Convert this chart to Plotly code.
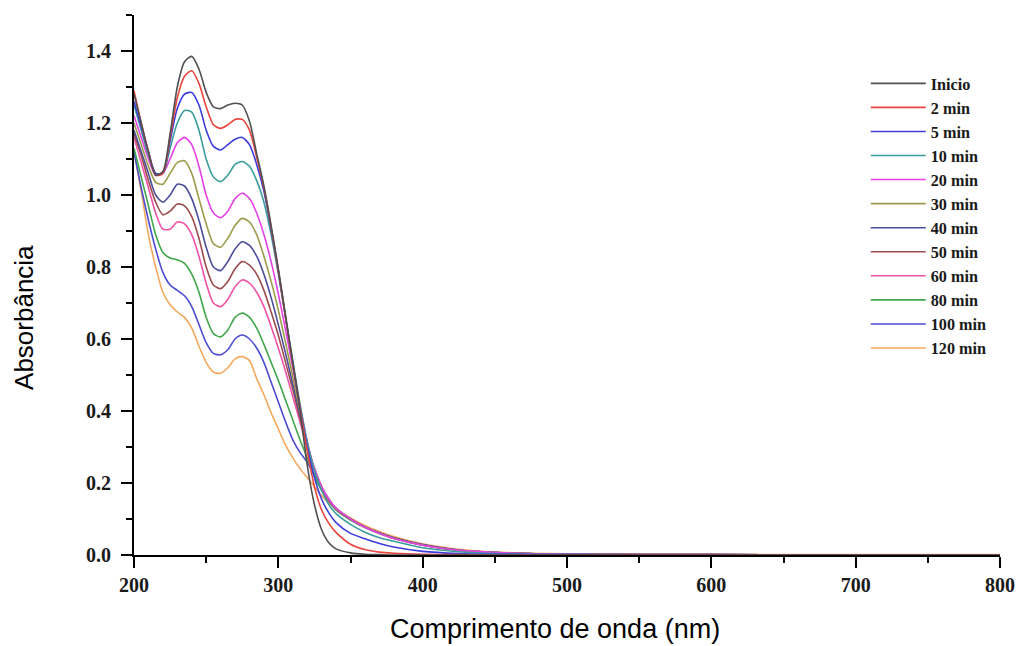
import plotly.graph_objects as go

# Wavelength grid (nm)
wavelength = [200, 205, 210, 215, 220, 225, 230, 235, 240, 245, 250, 255, 260, 265,
              270, 275, 280, 285, 290, 295, 300, 305, 310, 315, 320, 325, 330, 335,
              340, 350, 360, 370, 380, 400, 425, 450, 500, 600, 700, 800]

# Absorbance spectra recorded at each irradiation time
abs_inicio = [1.28, 1.20, 1.12, 1.055, 1.065, 1.17, 1.30, 1.37, 1.385, 1.35, 1.285, 1.245, 1.24, 1.25,
              1.255, 1.25, 1.205, 1.115, 1.025, 0.915, 0.795, 0.665, 0.535, 0.405, 0.25, 0.14, 0.07, 0.034,
              0.017, 0.006, 0.002, 0.001, 0.0, 0.0, 0.0, 0.0, 0.0, 0.0, 0.0, 0.0]
abs_2min = [1.29, 1.20, 1.12, 1.055, 1.06, 1.16, 1.27, 1.33, 1.345, 1.31, 1.245, 1.195, 1.185, 1.195,
            1.21, 1.21, 1.18, 1.105, 1.02, 0.91, 0.79, 0.66, 0.53, 0.41, 0.29, 0.19, 0.125, 0.088,
            0.063, 0.03, 0.015, 0.008, 0.005, 0.002, 0.001, 0.0, 0.0, 0.0, 0.0, 0.0]
abs_5min = [1.26, 1.19, 1.12, 1.06, 1.06, 1.15, 1.24, 1.28, 1.285, 1.25, 1.18, 1.135, 1.125, 1.14,
            1.155, 1.16, 1.14, 1.085, 1.01, 0.905, 0.79, 0.66, 0.53, 0.41, 0.30, 0.215, 0.155, 0.117,
            0.09, 0.06, 0.045, 0.032, 0.022, 0.01, 0.004, 0.002, 0.001, 0.0, 0.0, 0.0]
abs_10min = [1.25, 1.18, 1.11, 1.06, 1.06, 1.13, 1.20, 1.235, 1.23, 1.18, 1.10, 1.05, 1.037, 1.055,
             1.085, 1.093, 1.08, 1.04, 0.98, 0.89, 0.78, 0.66, 0.54, 0.42, 0.315, 0.235, 0.18, 0.14,
             0.115, 0.085, 0.063, 0.048, 0.038, 0.02, 0.009, 0.004, 0.001, 0.0, 0.0, 0.0]
abs_20min = [1.22, 1.16, 1.10, 1.055, 1.06, 1.10, 1.145, 1.16, 1.14, 1.08, 1.00, 0.95, 0.937, 0.955,
             0.99, 1.005, 0.99, 0.95, 0.89, 0.815, 0.725, 0.625, 0.52, 0.415, 0.315, 0.24, 0.19, 0.155,
             0.13, 0.10, 0.077, 0.06, 0.046, 0.027, 0.013, 0.007, 0.002, 0.001, 0.0, 0.0]
abs_30min = [1.20, 1.14, 1.08, 1.035, 1.03, 1.06, 1.09, 1.095, 1.06, 0.99, 0.92, 0.865, 0.855, 0.88,
             0.915, 0.935, 0.925, 0.89, 0.83, 0.76, 0.68, 0.59, 0.495, 0.40, 0.31, 0.24, 0.19, 0.155,
             0.13, 0.10, 0.077, 0.06, 0.046, 0.027, 0.013, 0.007, 0.002, 0.001, 0.0, 0.0]
abs_40min = [1.18, 1.12, 1.06, 1.00, 0.98, 1.00, 1.03, 1.025, 0.99, 0.93, 0.855, 0.80, 0.79, 0.815,
             0.85, 0.87, 0.86, 0.83, 0.78, 0.715, 0.64, 0.56, 0.475, 0.39, 0.305, 0.24, 0.19, 0.155,
             0.13, 0.10, 0.078, 0.061, 0.047, 0.028, 0.013, 0.007, 0.002, 0.001, 0.0, 0.0]
abs_50min = [1.17, 1.11, 1.04, 0.98, 0.945, 0.955, 0.975, 0.97, 0.94, 0.88, 0.80, 0.75, 0.74, 0.76,
             0.795, 0.815, 0.805, 0.78, 0.735, 0.675, 0.61, 0.535, 0.46, 0.38, 0.30, 0.235, 0.185, 0.152,
             0.128, 0.10, 0.078, 0.061, 0.047, 0.028, 0.013, 0.007, 0.002, 0.001, 0.0, 0.0]
abs_60min = [1.16, 1.09, 1.02, 0.95, 0.905, 0.905, 0.925, 0.92, 0.89, 0.83, 0.755, 0.70, 0.69, 0.71,
             0.745, 0.764, 0.755, 0.73, 0.69, 0.635, 0.575, 0.51, 0.44, 0.37, 0.295, 0.235, 0.185, 0.152,
             0.128, 0.10, 0.078, 0.061, 0.047, 0.028, 0.014, 0.007, 0.002, 0.001, 0.0, 0.0]
abs_80min = [1.13, 1.05, 0.97, 0.89, 0.84, 0.825, 0.82, 0.81, 0.78, 0.73, 0.66, 0.615, 0.606, 0.625,
             0.66, 0.672, 0.66, 0.63, 0.585, 0.535, 0.485, 0.43, 0.375, 0.32, 0.27, 0.22, 0.18, 0.15,
             0.125, 0.097, 0.076, 0.06, 0.047, 0.028, 0.014, 0.007, 0.002, 0.001, 0.0, 0.0]
abs_100min = [1.12, 1.02, 0.93, 0.85, 0.785, 0.75, 0.735, 0.72, 0.69, 0.64, 0.59, 0.56, 0.556, 0.57,
              0.60, 0.611, 0.60, 0.575, 0.535, 0.48, 0.425, 0.37, 0.32, 0.285, 0.258, 0.22, 0.18, 0.15,
              0.126, 0.098, 0.077, 0.061, 0.048, 0.029, 0.014, 0.007, 0.002, 0.001, 0.0, 0.0]
abs_120min = [1.12, 1.01, 0.89, 0.80, 0.73, 0.695, 0.675, 0.66, 0.63, 0.58, 0.535, 0.508, 0.505, 0.52,
              0.545, 0.551, 0.54, 0.49, 0.445, 0.395, 0.35, 0.305, 0.27, 0.24, 0.215, 0.19, 0.165, 0.145,
              0.128, 0.103, 0.082, 0.065, 0.051, 0.031, 0.016, 0.008, 0.003, 0.001, 0.001, 0.001]

series_names = ["Inicio", "2 min", "5 min", "10 min", "20 min", "30 min", "40 min",
                "50 min", "60 min", "80 min", "100 min", "120 min"]
series_values = [abs_inicio, abs_2min, abs_5min, abs_10min, abs_20min, abs_30min, abs_40min,
                 abs_50min, abs_60min, abs_80min, abs_100min, abs_120min]
series_colors = ["#505050", "#e8453f", "#3c3cdc", "#3a9c9c", "#e640e6", "#9c9c4c", "#4c4c9c",
                 "#9c4c4c", "#f052a8", "#40a64c", "#4c4cd2", "#f5a85c"]

x_ticks = [200, 300, 400, 500, 600, 700, 800]
y_ticks = [0.0, 0.2, 0.4, 0.6, 0.8, 1.0, 1.2, 1.4]

fig = go.Figure()
# Later samples first so the earlier spectra sit on top; legend keeps time order
for rank in reversed(range(len(series_names))):
    fig.add_trace(go.Scatter(
        x=wavelength, y=series_values[rank], name=series_names[rank], mode="lines",
        line=dict(color=series_colors[rank], width=1.6, shape="spline", smoothing=0.7),
        legendrank=rank + 1,
    ))

tick_font = dict(family="Liberation Serif", size=20, color="#1a1a1a", weight="bold")
axis_common = dict(showline=True, linecolor="black", linewidth=2, mirror=False,
                   showgrid=False, zeroline=False, ticks="outside", ticklen=11,
                   tickwidth=2, tickcolor="black", tickfont=tick_font)

fig.update_xaxes(range=[200, 800], tickvals=x_ticks, ticklabelstandoff=0,
                 minor=dict(dtick=50, tick0=200, ticks="outside", ticklen=6, tickwidth=2,
                            tickcolor="black"),
                 **axis_common)
fig.update_yaxes(range=[0, 1.5], tickvals=y_ticks, tickformat=".1f", ticklabelstandoff=6,
                 minor=dict(dtick=0.1, tick0=0, ticks="outside", ticklen=6, tickwidth=2,
                            tickcolor="black"),
                 **axis_common)

fig.update_layout(
    width=1031, height=646,
    margin=dict(l=134, r=31, t=15, b=91),
    paper_bgcolor="white", plot_bgcolor="white",
    showlegend=True,
    legend=dict(x=0.845, y=0.905, xanchor="left", yanchor="top",
                bgcolor="rgba(0,0,0,0)", borderwidth=0, itemwidth=55,
                font=dict(family="Liberation Serif", size=16.2, color="#1a1a1a", weight="bold"),
                tracegroupgap=0),
    annotations=[
        dict(text="Comprimento de onda (nm)", xref="paper", yref="paper",
             x=0.486, y=-0.137, xanchor="center", yanchor="middle", showarrow=False,
             font=dict(family="Liberation Sans", size=27, color="black")),
        dict(text="Absorbância", xref="paper", yref="paper",
             x=-0.127, y=0.439, xanchor="center", yanchor="middle", showarrow=False,
             textangle=-90, font=dict(family="Liberation Sans", size=26, color="black")),
    ],
)

fig.write_html("out.html")
